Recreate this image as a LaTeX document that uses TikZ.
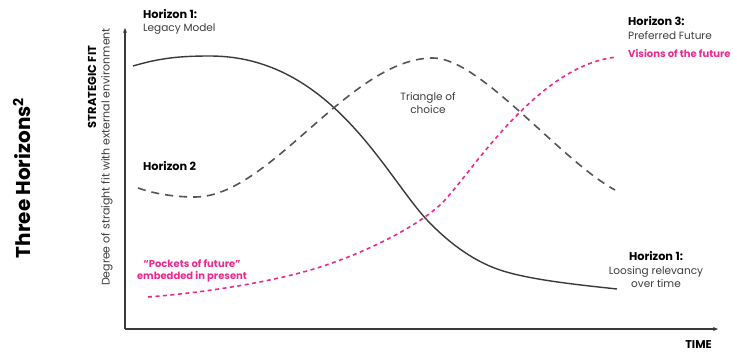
\documentclass[tikz,border=0pt]{standalone}
\usepackage{fontspec}
\setmainfont{Poppins}
\usetikzlibrary{arrows.meta}
\definecolor{pinkc}{HTML}{EC2A8E}
\definecolor{linec}{HTML}{3A3A3A}
\definecolor{dashc}{HTML}{555555}
\definecolor{txtc}{HTML}{3C3C3C}
\tikzset{
  lbl/.style={font=\fontsize{10.5}{13}\selectfont, text=txtc, inner sep=0pt, align=left},
  bld/.style={lbl, font=\fontsize{11.3}{13}\selectfont\bfseries, text=black},
  pnk/.style={lbl, font=\fontsize{10}{12}\selectfont\bfseries, text=pinkc},
  axis/.style={line width=1.8pt, draw=linec, -{Stealth[length=5pt,width=4pt]}},
}
\begin{document}
\begin{tikzpicture}[x=1pt,y=-1pt]
\useasboundingbox (0,0) rectangle (733,352);
% axes
\coordinate (o) at (125,329);
\coordinate (ytip) at (125,28);
\coordinate (xtip) at (718,329);
\draw[axis] (o) -- (ytip);
\draw[axis] (o) -- (xtip);
% Horizon 1 (solid)
\draw[linec, line width=1.4pt] (133,66) .. controls (160,58) and (180,56) .. (210,56)
  .. controls (330,56) and (385,175) .. (427,220)
  .. controls (445,239) and (470,260) .. (500,270)
  .. controls (530,280) and (580,285) .. (617,289);
% Horizon 2 (dashed)
\draw[dashc, line width=1.6pt, dash pattern=on 8pt off 6pt] (138,188) .. controls (155,194) and (175,197) .. (195,197)
  .. controls (270,197) and (350,58) .. (433,58)
  .. controls (480,58) and (560,160) .. (615,190);
% Horizon 3 (pink dotted)
\draw[pinkc, line width=1.6pt, dash pattern=on 4pt off 3.5pt] (148,297) .. controls (200,293) and (260,284) .. (307,271)
  .. controls (360,256) and (415,228) .. (440,205)
  .. controls (468,179) and (535,65) .. (617,57);
% texts
\node[bld, anchor=north west] (h1a) at (143,9) {Horizon 1:};
\node[lbl, anchor=north west] (lm) at (143,24) {Legacy Model};
\node[bld, anchor=north west] (h2) at (143,161) {Horizon 2};
\node[lbl, align=center] (tri) at (428,103) {Triangle of\\choice};
\node[bld, anchor=north west] (h3) at (628,16) {Horizon 3:};
\node[lbl, anchor=north west] (pf) at (628,31) {Preferred Future};
\node[pnk, anchor=north west] (vis) at (628,49) {Visions of the future};
\node[pnk, align=center] (pock) at (192,271) {``Pockets of future''\\embedded in present};
\node[bld, anchor=north] (h1b) at (656,251) {Horizon 1:};
\node[lbl, align=center, anchor=north] (lr) at (656,266) {Loosing relevancy\\over time};
\node[bld, anchor=north east] (time) at (712,340) {TIME};
\node[bld, rotate=90, font=\fontsize{11.5}{13}\selectfont\bfseries] (sf) at (92,87) {STRATEGIC FIT};
\node[lbl, rotate=90, font=\fontsize{11}{13}\selectfont] (deg) at (107,157) {Degree of straight fit with external environment};
\node[lbl, text=black, rotate=90, font=\fontsize{20}{22}\selectfont\bfseries] (th) at (22,178) {Three Horizons\textsuperscript{2}};
\end{tikzpicture}
\end{document}
